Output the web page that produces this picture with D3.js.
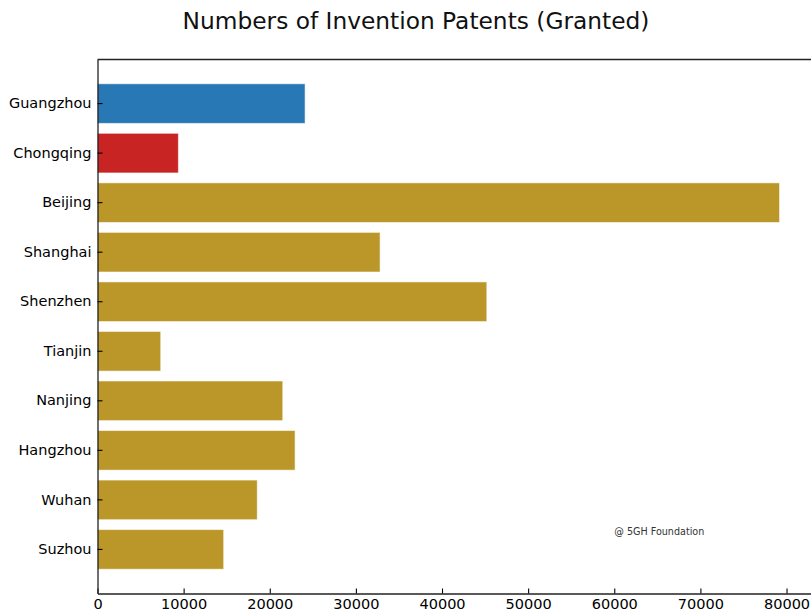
<!DOCTYPE html>
<html>
<head>
<meta charset="utf-8">
<script src="https://cdn.jsdelivr.net/npm/d3@7"></script>
<style>
  body { margin: 0; background: #fff; }
  svg { display: block; font-family: "DejaVu Sans", sans-serif; }
</style>
</head>
<body>
<div class="vis-barchart"></div>
<script>
// data
const cities = ['Guangzhou', 'Chongqing', 'Beijing', 'Shanghai', 'Shenzhen',
                'Tianjin', 'Nanjing', 'Hangzhou', 'Wuhan', 'Suzhou'];
const patents = [24100, 9390, 79190, 32810, 45200, 7340, 21510, 22940, 18550, 14650];
const barColors = ['#2878b5', '#c82423', '#bb972a', '#bb972a', '#bb972a',
                   '#bb972a', '#bb972a', '#bb972a', '#bb972a', '#bb972a'];
const xTicks = [0, 10000, 20000, 30000, 40000, 50000, 60000, 70000, 80000];

const width = 811, height = 612;
const margin = {left: 97.5, top: 59.5, bottom: 593.5, right: 811.5};

const svg = d3.select('.vis-barchart').append('svg')
    .attr('width', width)
    .attr('height', height);

const xScale = d3.scaleLinear()
    .domain([0, 82900])
    .range([margin.left, margin.right]);

const yScale = d3.scaleBand()
    .domain(cities)
    .range([margin.top, margin.bottom])
    .paddingInner(0.2)
    .paddingOuter(0.49);

// bars
svg.append('g')
  .selectAll('rect')
  .data(cities)
  .join('rect')
    .attr('x', xScale(0))
    .attr('y', d => yScale(d))
    .attr('width', (d, i) => xScale(patents[i]) - xScale(0))
    .attr('height', yScale.bandwidth())
    .attr('fill', (d, i) => barColors[i])
    .attr('stroke', '#fff')
    .attr('stroke-opacity', 0.55)
    .attr('stroke-width', 1);

// x axis, ticks pointing inward
const gXAxis = svg.append('g')
    .attr('transform', `translate(0, ${margin.bottom})`)
    .call(d3.axisBottom(xScale)
      .tickValues(xTicks)
      .tickFormat(d3.format('d'))
      .tickSizeInner(-5)
      .tickSizeOuter(0)
      .tickPadding(5));

// y axis
const gYAxis = svg.append('g')
    .attr('transform', `translate(${margin.left}, 0)`)
    .call(d3.axisLeft(yScale)
      .tickSizeInner(-5)
      .tickSizeOuter(0)
      .tickPadding(6));

[gXAxis, gYAxis].forEach(g => {
  g.selectAll('text')
    .attr('fill', '#000')
    .style('font-size', '14.5px')
    .style('font-family', '"DejaVu Sans", sans-serif');
  g.selectAll('line').attr('stroke', '#000').attr('stroke-width', 1.1);
  g.select('.domain').attr('stroke', '#222').attr('stroke-width', 1.3);
});

// top spine
svg.append('line')
    .attr('x1', margin.left).attr('x2', margin.right)
    .attr('y1', margin.top).attr('y2', margin.top)
    .attr('stroke', '#222')
    .attr('stroke-width', 1.3);

// title
svg.append('text')
    .attr('x', 416)
    .attr('y', 29)
    .attr('text-anchor', 'middle')
    .style('font-size', '23.3px')
    .attr('fill', '#111')
    .text('Numbers of Invention Patents (Granted)');

// watermark
svg.append('text')
    .attr('x', xScale(60000))
    .attr('y', 535)
    .style('font-size', '9.6px')
    .attr('fill', '#333')
    .text('@ 5GH Foundation');
</script>
</body>
</html>
